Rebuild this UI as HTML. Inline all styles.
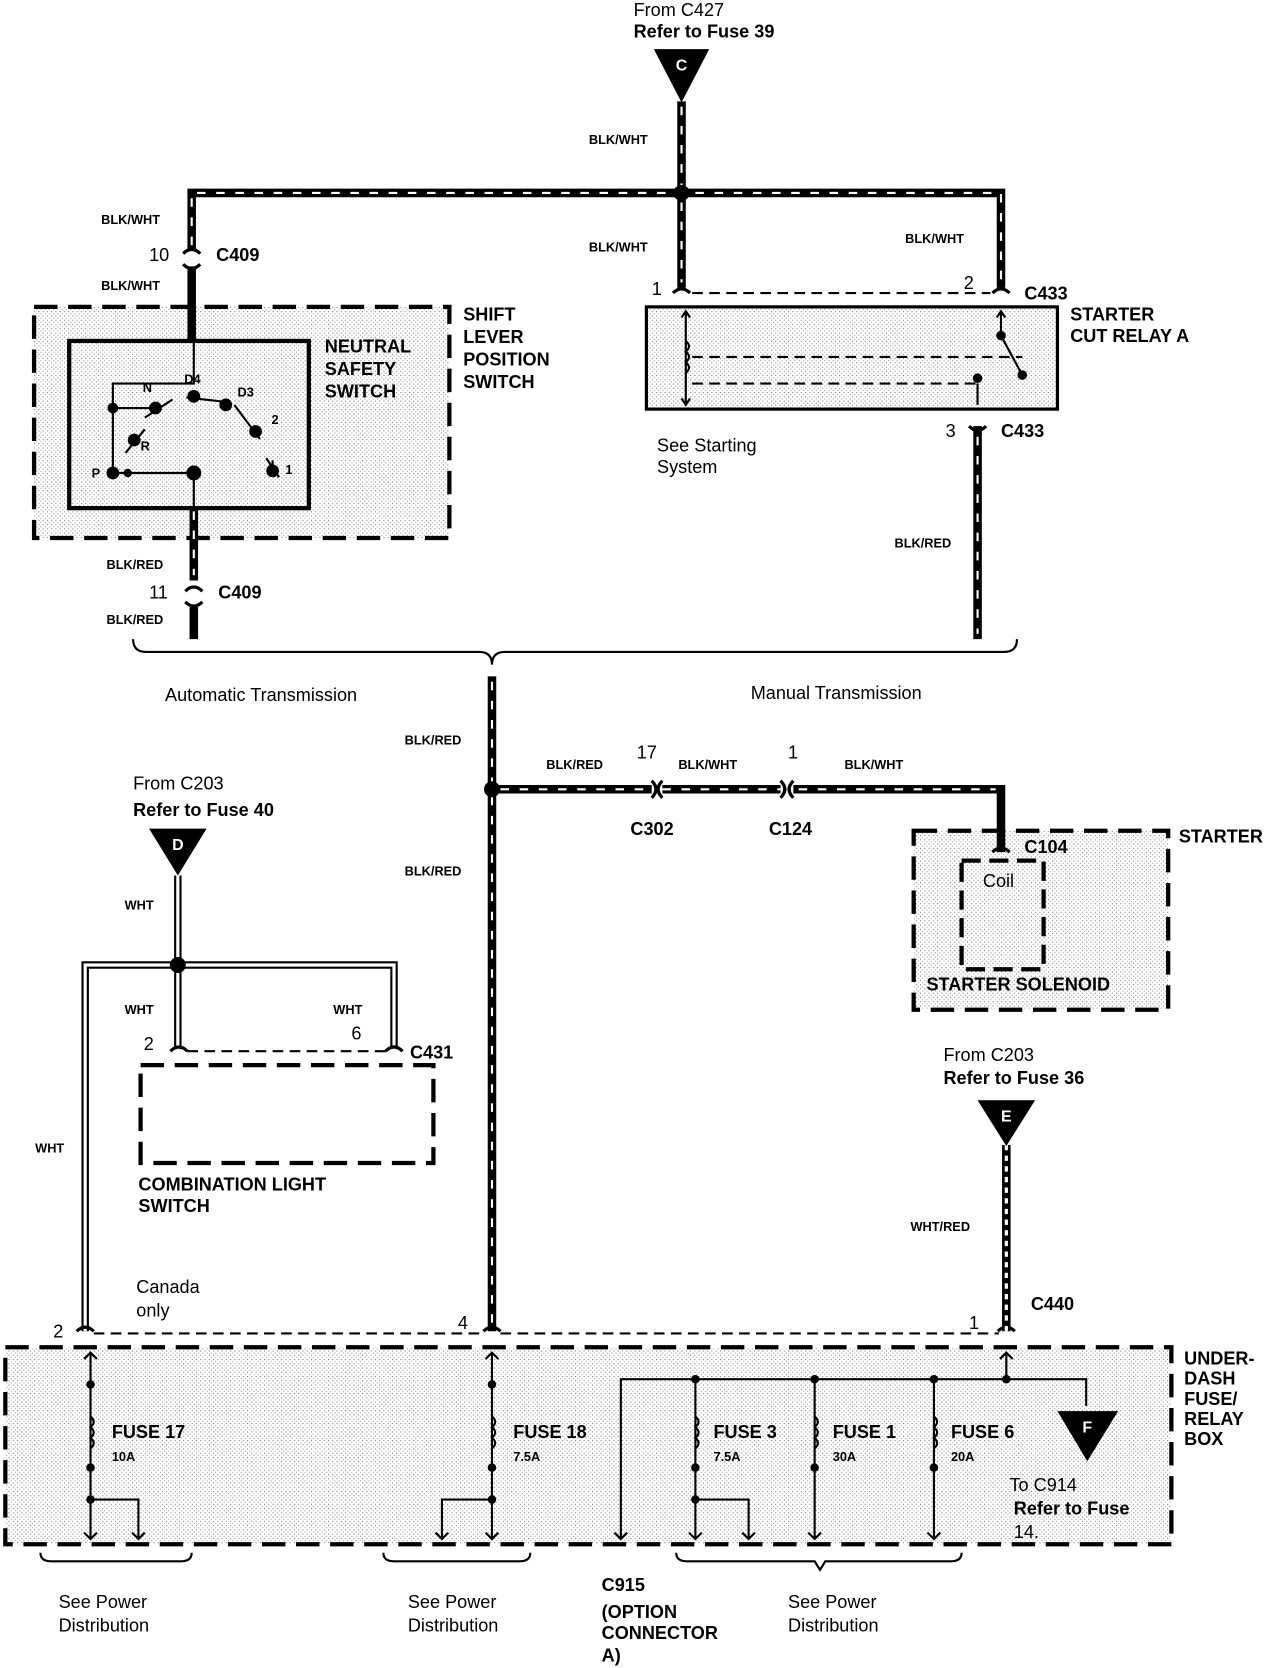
<!DOCTYPE html>
<html><head><meta charset="utf-8"><style>
html,body{margin:0;padding:0;background:#fff;}
svg{display:block;}
text{font-family:"Liberation Sans",Arial,sans-serif;fill:#000;}
.b{font-weight:bold;}
</style></head><body>
<svg width="1280" height="1668" viewBox="0 0 1202 1566" xmlns="http://www.w3.org/2000/svg">
<defs>
<pattern id="dots" width="4" height="4" patternUnits="userSpaceOnUse">
<rect width="4" height="4" fill="#fff"/><rect x="0" y="0" width="1" height="1" fill="#777"/><rect x="2" y="2" width="1" height="1" fill="#999"/>
</pattern>
</defs>
<g fill="none" stroke="#000">
<!-- shaded boxes -->
<rect x="32" y="288" width="390" height="217" fill="url(#dots)" stroke-width="4" stroke-dasharray="22,10"/>
<rect x="65" y="320" width="225" height="157" fill="url(#dots)" stroke-width="4"/>
<rect x="607" y="288" width="386" height="96" fill="url(#dots)" stroke-width="3"/>
<rect x="858" y="780" width="239" height="168" fill="url(#dots)" stroke-width="4" stroke-dasharray="22,10"/>
<rect x="903" y="808" width="77" height="102" stroke-width="4" stroke-dasharray="18,8"/>
<rect x="132" y="1000" width="275" height="92" stroke-width="4" stroke-dasharray="22,10"/>
<rect x="5" y="1265" width="1095" height="185" fill="url(#dots)" stroke-width="4" stroke-dasharray="22,10"/>
<!-- BLK/WHT & BLK/RED thick wires -->
<g stroke-width="8">
<path d="M640 95 V270"/><path d="M180 235 V181 H940 V270"/><path d="M180 250 V320"/>
<path d="M918 400 V600"/><path d="M182 477 V545"/><path d="M182 570 V600"/>
<path d="M462 635 V1250"/><path d="M462 741 H612"/><path d="M622 741 H733"/><path d="M745 741 H940 V800"/>
</g>
<g stroke="#fff" stroke-width="2" stroke-dasharray="8,10">
<path d="M640 100 V265"/><path d="M180 230 V181 H940 V265"/><path d="M918 410 V595"/><path d="M182 480 V540"/><path d="M462 640 V1245"/><path d="M470 741 H612"/><path d="M622 741 H733"/><path d="M750 741 H935"/>
</g>
<circle cx="640" cy="181" r="7" fill="#000"/><circle cx="462" cy="741" r="7" fill="#000"/>
<!-- connectors -->
<path d="M172 238 q8 -8 16 0 M172 248 q8 8 16 0" stroke-width="3"/>
<path d="M174 555 q8 -8 16 0 M174 565 q8 8 16 0" stroke-width="3"/>
<path d="M910 400 q8 8 16 0" stroke-width="3"/>
<path d="M612 733 q8 8 0 16 M622 733 q-8 8 0 16 M733 733 q8 8 0 16 M745 733 q-8 8 0 16" stroke-width="3"/>
<path d="M632 275 q8 -8 16 0 M932 275 q8 -8 16 0" stroke-width="3"/>
<path d="M650 275 H930" stroke-width="2" stroke-dasharray="10,6"/>
<path d="M932 800 q8 -8 16 0" stroke-width="3"/>
<!-- relay internals -->
<path d="M644 292 V380 M640 298 L644 292 L648 298 M640 374 L644 380 L648 374" stroke-width="2"/>
<path d="M644 320 q6 5 0 10 q6 5 0 10 q6 5 0 10" stroke-width="2"/>
<path d="M650 335 H960 M650 360 H920" stroke-width="2" stroke-dasharray="10,6"/>
<path d="M940 292 V315 L960 352 M918 360 V380 M936 298 L940 292 L944 298" stroke-width="2"/>
<circle cx="940" cy="315" r="4" fill="#000"/><circle cx="960" cy="352" r="4" fill="#000"/><circle cx="918" cy="355" r="4" fill="#000"/>
<!-- neutral switch internals -->
<path d="M182 288 V360 H106 V444 H182 V477" stroke-width="2"/>
<path d="M106 383 H146" stroke-width="2"/>
<g fill="#000" stroke-width="2">
<circle cx="106" cy="383" r="4"/><circle cx="146" cy="383" r="5"/><circle cx="182" cy="372" r="5"/><circle cx="212" cy="380" r="5"/><circle cx="240" cy="405" r="5"/><circle cx="256" cy="442" r="5"/><circle cx="126" cy="413" r="5"/><circle cx="106" cy="444" r="5"/><circle cx="120" cy="444" r="3"/><circle cx="182" cy="444" r="6"/>
</g>
<path d="M136 392 L162 375 M118 425 L136 403 M175 373 L210 377 M220 380 L244 412 M250 430 L262 448 M256 440 V432" stroke-width="2"/>
<!-- brace -->
<path d="M125 600 q0 12 12 12 H450 q12 0 12 12 q0 -12 12 -12 H943 q12 0 12 -12" stroke-width="2"/>
<!-- white wires -->
<g stroke-width="7"><path d="M167 822 V985"/><path d="M80 1250 V906 H370 V985"/></g>
<g stroke="#fff" stroke-width="3"><path d="M167 822 V985"/><path d="M80 1250 V906 H370 V985"/></g>
<circle cx="167" cy="906" r="7" fill="#000"/>
<path d="M160 987 q8 -8 16 0 M362 987 q8 -8 16 0 M72 1250 q8 -8 16 0" stroke-width="3"/>
<path d="M176 987 H362" stroke-width="2" stroke-dasharray="10,6"/>
<path d="M88 1252 H455 M470 1252 H938" stroke-width="2" stroke-dasharray="10,6"/>
<path d="M454 1250 q8 -8 16 0 M937 1250 q8 -8 16 0" stroke-width="3"/>
<!-- WHT/RED -->
<path d="M945 1075 V1250" stroke-width="8"/>
<path d="M945 1075 V1250" stroke="#fff" stroke-width="3" stroke-dasharray="5,5"/>
<!-- fuse box internals -->
<g stroke-width="2">
<path d="M85 1270 V1445 M85 1408 H130 V1445 M79 1276 L85 1270 L91 1276 M79 1439 L85 1445 L91 1439 M124 1439 L130 1445 L136 1439"/>
<path d="M462 1270 V1445 M462 1408 H415 V1445 M456 1276 L462 1270 L468 1276 M456 1439 L462 1445 L468 1439 M409 1439 L415 1445 L421 1439"/>
<path d="M583 1445 V1295 H1020 V1320 M577 1439 L583 1445 L589 1439"/>
<path d="M653 1295 V1445 M653 1408 H703 V1445 M647 1439 L653 1445 L659 1439 M697 1439 L703 1445 L709 1439"/>
<path d="M765 1295 V1445 M759 1439 L765 1445 L771 1439"/>
<path d="M877 1295 V1445 M871 1439 L877 1445 L883 1439"/>
<path d="M945 1270 V1295 M939 1276 L945 1270 L951 1276"/>
<path d="M85 1330 q6 5 0 10 q6 5 0 10 q6 5 0 10 M462 1330 q6 5 0 10 q6 5 0 10 q6 5 0 10 M653 1330 q6 5 0 10 q6 5 0 10 q6 5 0 10 M765 1330 q6 5 0 10 q6 5 0 10 q6 5 0 10 M877 1330 q6 5 0 10 q6 5 0 10 q6 5 0 10"/>
<path d="M38 1458 q0 8 10 8 H170 q10 0 10 -8 M360 1458 q0 8 10 8 H488 q10 0 10 -8 M635 1458 q0 8 10 8 H765 l5 8 l5 -8 H893 q10 0 10 -8"/>
</g>
<g fill="#000" stroke="none">
<circle cx="85" cy="1300" r="4"/><circle cx="85" cy="1378" r="4"/><circle cx="85" cy="1408" r="4"/>
<circle cx="462" cy="1300" r="4"/><circle cx="462" cy="1378" r="4"/><circle cx="462" cy="1408" r="4"/>
<circle cx="653" cy="1295" r="4"/><circle cx="765" cy="1295" r="4"/><circle cx="877" cy="1295" r="4"/><circle cx="945" cy="1295" r="4"/>
<circle cx="653" cy="1378" r="4"/><circle cx="653" cy="1408" r="4"/><circle cx="765" cy="1378" r="4"/><circle cx="877" cy="1378" r="4"/>
</g>
</g>
<!-- triangles -->
<polygon points="614,46 666,46 640,96" fill="#000"/>
<text x="640" y="66" font-size="15" text-anchor="middle" style="fill:#fff" class="b">C</text>
<polygon points="140,778 194,778 167,822" fill="#000"/>
<text x="167" y="798" font-size="15" text-anchor="middle" style="fill:#fff" class="b">D</text>
<polygon points="918,1033 972,1033 945,1076" fill="#000"/>
<text x="945" y="1053" font-size="15" text-anchor="middle" style="fill:#fff" class="b">E</text>
<polygon points="993,1325 1050,1325 1021,1372" fill="#000"/>
<text x="1021" y="1345" font-size="15" text-anchor="middle" style="fill:#fff" class="b">F</text>
<!-- text -->
<g font-size="17">
<text x="595" y="15">From C427</text><text x="595" y="35" class="b">Refer to Fuse 39</text>
<text x="140" y="245">10</text><text x="203" y="245" class="b">C409</text>
<text x="612" y="277">1</text><text x="905" y="271">2</text><text x="962" y="281" class="b">C433</text>
<text x="888" y="410">3</text><text x="940" y="410" class="b">C433</text>
<text x="140" y="562">11</text><text x="205" y="562" class="b">C409</text>
<text x="435" y="301" class="b">SHIFT</text><text x="435" y="322" class="b">LEVER</text><text x="435" y="343" class="b">POSITION</text><text x="435" y="364" class="b">SWITCH</text>
<text x="305" y="331" class="b">NEUTRAL</text><text x="305" y="352" class="b">SAFETY</text><text x="305" y="373" class="b">SWITCH</text>
<text x="1005" y="301" class="b">STARTER</text><text x="1005" y="321" class="b">CUT RELAY A</text>
<text x="617" y="424">See Starting</text><text x="617" y="444">System</text>
<text x="155" y="658">Automatic Transmission</text><text x="705" y="656">Manual Transmission</text>
<text x="598" y="712">17</text><text x="740" y="712">1</text>
<text x="592" y="784" class="b">C302</text><text x="722" y="784" class="b">C124</text>
<text x="125" y="741">From C203</text><text x="125" y="766" class="b">Refer to Fuse 40</text>
<text x="962" y="801" class="b">C104</text><text x="923" y="833">Coil</text>
<text x="870" y="930" class="b">STARTER SOLENOID</text><text x="1107" y="791" class="b">STARTER</text>
<text x="135" y="986">2</text><text x="330" y="976">6</text><text x="385" y="994" class="b">C431</text>
<text x="130" y="1118" class="b">COMBINATION LIGHT</text><text x="130" y="1138" class="b">SWITCH</text>
<text x="886" y="996">From C203</text><text x="886" y="1018" class="b">Refer to Fuse 36</text>
<text x="968" y="1230" class="b">C440</text><text x="910" y="1248">1</text>
<text x="128" y="1214">Canada</text><text x="128" y="1236">only</text>
<text x="50" y="1256">2</text><text x="430" y="1248">4</text>
<text x="1112" y="1281" class="b">UNDER-</text><text x="1112" y="1300" class="b">DASH</text><text x="1112" y="1319" class="b">FUSE/</text><text x="1112" y="1338" class="b">RELAY</text><text x="1112" y="1357" class="b">BOX</text>
<text x="105" y="1350" class="b">FUSE 17</text><text x="482" y="1350" class="b">FUSE 18</text><text x="670" y="1350" class="b">FUSE 3</text><text x="782" y="1350" class="b">FUSE 1</text><text x="893" y="1350" class="b">FUSE 6</text>
<text x="948" y="1400">To C914</text><text x="952" y="1422" class="b">Refer to Fuse</text><text x="952" y="1444">14.</text>
<text x="55" y="1510">See Power</text><text x="55" y="1532">Distribution</text>
<text x="383" y="1510">See Power</text><text x="383" y="1532">Distribution</text>
<text x="740" y="1510">See Power</text><text x="740" y="1532">Distribution</text>
<text x="565" y="1494" class="b">C915</text><text x="565" y="1519" class="b">(OPTION</text><text x="565" y="1539" class="b">CONNECTOR</text><text x="565" y="1560" class="b">A)</text>
</g>
<g font-size="12" class="b">
<text x="553" y="135">BLK/WHT</text><text x="95" y="210">BLK/WHT</text><text x="95" y="272">BLK/WHT</text><text x="553" y="236">BLK/WHT</text><text x="850" y="228">BLK/WHT</text>
<text x="840" y="514">BLK/RED</text><text x="100" y="534">BLK/RED</text><text x="100" y="586">BLK/RED</text>
<text x="380" y="699">BLK/RED</text><text x="380" y="822">BLK/RED</text><text x="513" y="722">BLK/RED</text><text x="637" y="722">BLK/WHT</text><text x="793" y="722">BLK/WHT</text>
<text x="117" y="854">WHT</text><text x="117" y="952">WHT</text><text x="313" y="952">WHT</text><text x="33" y="1082">WHT</text><text x="855" y="1156">WHT/RED</text>
<text x="105" y="1372">10A</text><text x="482" y="1372">7.5A</text><text x="670" y="1372">7.5A</text><text x="782" y="1372">30A</text><text x="893" y="1372">20A</text>
<text x="134" y="368">N</text><text x="173" y="360">D4</text><text x="223" y="372">D3</text><text x="255" y="398">2</text><text x="132" y="423">R</text><text x="86" y="448">P</text><text x="268" y="445">1</text>
</g>
</svg>
</body></html>
